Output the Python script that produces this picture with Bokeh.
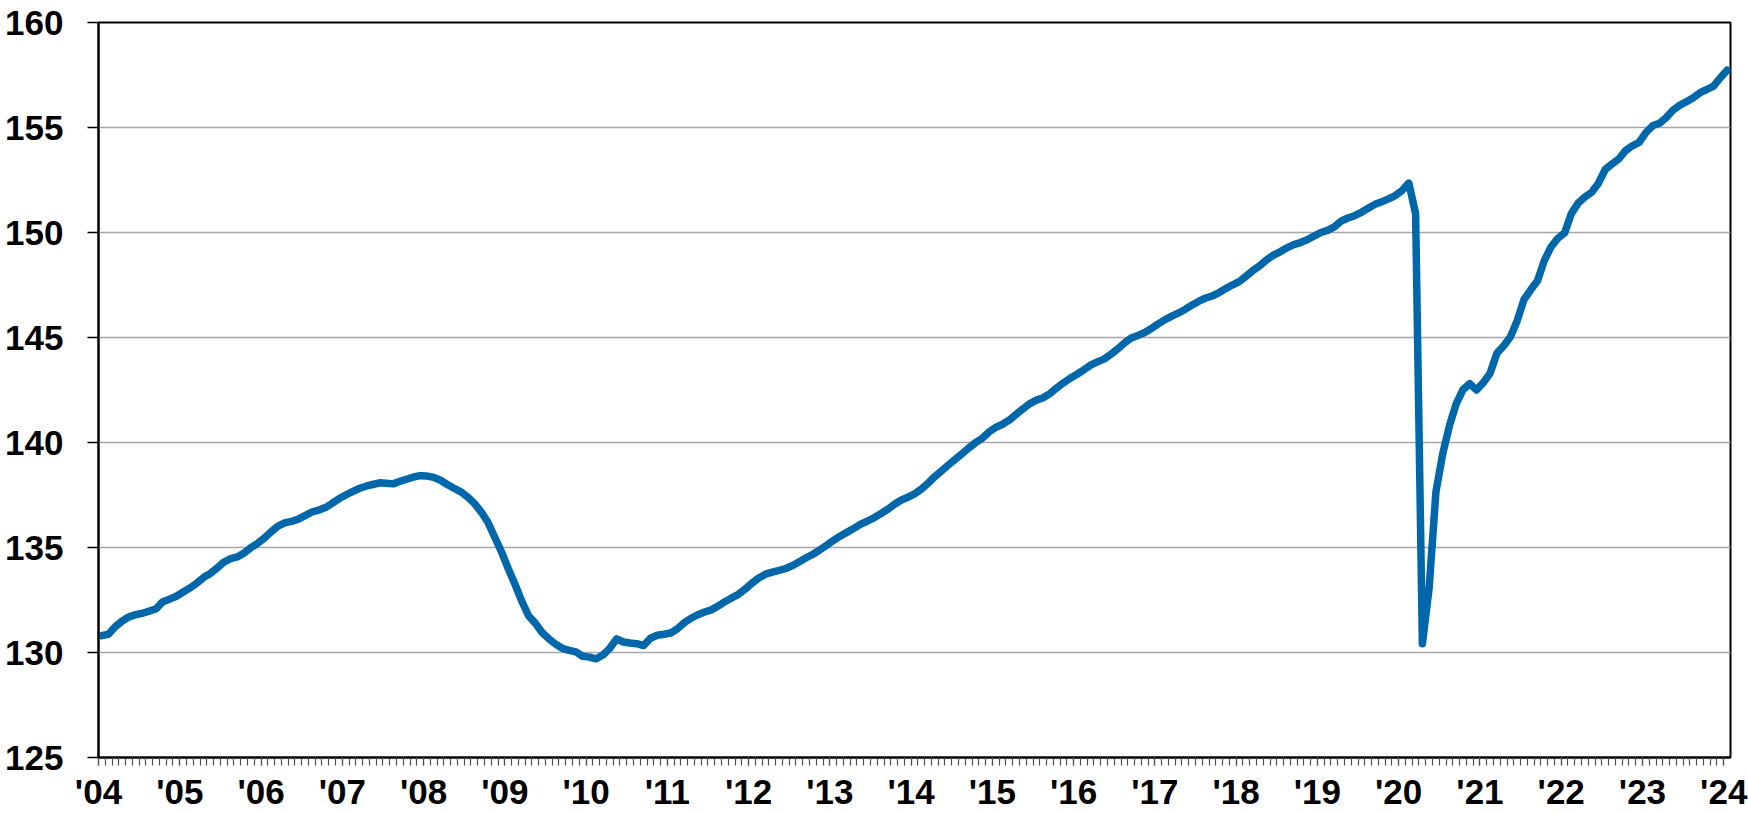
from bokeh.plotting import figure
from bokeh.models import Range1d, FixedTicker, ColumnDataSource
from bokeh.embed import file_html
from bokeh.resources import INLINE

# Monthly values (millions), Jan 2004 .. Jan 2024
y2004 = [130.80, 130.88, 131.24, 131.50, 131.70, 131.80, 131.87, 131.97, 132.08, 132.42, 132.54, 132.68]
y2005 = [132.88, 133.07, 133.30, 133.57, 133.76, 134.02, 134.30, 134.47, 134.55, 134.74, 134.99, 135.20]
y2006 = [135.45, 135.75, 136.02, 136.17, 136.24, 136.35, 136.52, 136.69, 136.78, 136.90, 137.10, 137.32]
y2007 = [137.50, 137.66, 137.81, 137.92, 138.00, 138.08, 138.06, 138.03, 138.15, 138.25, 138.36, 138.42]
y2008 = [138.40, 138.34, 138.20, 138.00, 137.82, 137.65, 137.41, 137.10, 136.70, 136.20, 135.50, 134.80]
y2009 = [134.00, 133.25, 132.45, 131.75, 131.40, 130.95, 130.65, 130.40, 130.20, 130.10, 130.03, 129.82]
y2010 = [129.78, 129.70, 129.88, 130.20, 130.65, 130.50, 130.45, 130.42, 130.33, 130.68, 130.82, 130.87]
y2011 = [130.93, 131.13, 131.42, 131.63, 131.80, 131.93, 132.03, 132.21, 132.42, 132.60, 132.77, 133.02]
y2012 = [133.30, 133.55, 133.73, 133.83, 133.91, 134.00, 134.14, 134.32, 134.51, 134.68, 134.88, 135.10]
y2013 = [135.33, 135.54, 135.72, 135.90, 136.10, 136.25, 136.41, 136.61, 136.81, 137.05, 137.25, 137.39]
y2014 = [137.55, 137.78, 138.06, 138.38, 138.65, 138.93, 139.20, 139.46, 139.73, 139.99, 140.20, 140.50]
y2015 = [140.72, 140.87, 141.07, 141.34, 141.60, 141.84, 142.02, 142.13, 142.33, 142.60, 142.84, 143.06]
y2016 = [143.25, 143.46, 143.68, 143.84, 143.97, 144.20, 144.45, 144.74, 144.98, 145.10, 145.24, 145.43]
y2017 = [145.65, 145.85, 146.02, 146.17, 146.35, 146.55, 146.73, 146.88, 146.98, 147.14, 147.34, 147.51]
y2018 = [147.67, 147.93, 148.20, 148.42, 148.70, 148.92, 149.08, 149.27, 149.42, 149.52, 149.65, 149.83]
y2019 = [150.00, 150.10, 150.27, 150.54, 150.69, 150.80, 150.96, 151.15, 151.34, 151.46, 151.60, 151.76]
y2020 = [152.00, 152.35, 150.90, 130.42, 133.08, 137.65, 139.46, 140.80, 141.85, 142.52, 142.80, 142.50]
y2021 = [142.85, 143.30, 144.25, 144.60, 145.03, 145.80, 146.80, 147.27, 147.70, 148.66, 149.32, 149.72]
y2022 = [149.98, 150.90, 151.40, 151.69, 151.92, 152.35, 153.00, 153.26, 153.50, 153.90, 154.13, 154.29]
y2023 = [154.76, 155.08, 155.20, 155.47, 155.82, 156.06, 156.23, 156.42, 156.66, 156.81, 156.97, 157.37]
y2024 = [157.73]

years = [y2004, y2005, y2006, y2007, y2008, y2009, y2010, y2011, y2012, y2013,
         y2014, y2015, y2016, y2017, y2018, y2019, y2020, y2021, y2022, y2023, y2024]
year_labels = ["'04", "'05", "'06", "'07", "'08", "'09", "'10", "'11", "'12", "'13", "'14",
               "'15", "'16", "'17", "'18", "'19", "'20", "'21", "'22", "'23", "'24"]
y_ticks = [125, 130, 135, 140, 145, 150, 155, 160]

values = [v for yr in years for v in yr]
n = len(values)
xs = [i + 0.5 for i in range(n)]  # category centres
src = ColumnDataSource(dict(x=xs, y=values))

p = figure(width=1748, height=813, output_backend="svg", toolbar_location=None,
           x_range=Range1d(0, n), y_range=Range1d(125, 160),
           min_border_left=98, min_border_right=18, min_border_top=22, min_border_bottom=56)
p.background_fill_color = "white"
p.border_fill_color = "white"
p.outline_line_color = "black"
p.outline_line_width = 2
p.outline_line_alpha = 1.0

p.line("x", "y", source=src, line_color="#0068AA", line_width=7.5,
       line_join="round", line_cap="round")

# X axis
p.xaxis.ticker = FixedTicker(ticks=[12 * k for k in range(len(year_labels))],
                             minor_ticks=list(range(0, n)))
p.xaxis.major_label_overrides = {12 * k: lab for k, lab in enumerate(year_labels)}
p.xaxis.major_tick_out = 8
p.xaxis.major_tick_in = 0
p.xaxis.minor_tick_out = 8
p.xaxis.minor_tick_in = 0
p.xaxis.major_tick_line_color = "#505050"
p.xaxis.minor_tick_line_color = "#505050"
p.xaxis.major_tick_line_width = 1.2
p.xaxis.minor_tick_line_width = 1.2
p.xaxis.major_label_standoff = 6

# Y axis
p.yaxis.ticker = FixedTicker(ticks=y_ticks)
p.yaxis.major_tick_out = 11
p.yaxis.major_tick_in = 0
p.yaxis.minor_tick_out = 0
p.yaxis.minor_tick_in = 0
p.yaxis.major_tick_line_color = "black"
p.yaxis.major_tick_line_width = 1.5
p.yaxis.major_label_standoff = 24

for ax in (p.xaxis, p.yaxis):
    ax.axis_line_color = "black"
    ax.axis_line_width = 2
    ax.major_label_text_font = "Liberation Sans"
    ax.major_label_text_font_style = "bold"
    ax.major_label_text_font_size = "35px"
    ax.major_label_text_color = "black"

p.xgrid.visible = False
p.ygrid.grid_line_color = "#a6a6a6"
p.ygrid.grid_line_width = 1.5

open("out.html", "w").write(file_html(p, INLINE))
